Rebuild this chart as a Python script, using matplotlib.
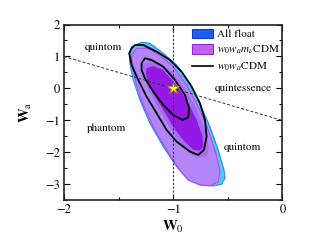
import numpy as np
import matplotlib
matplotlib.use("Agg")
import matplotlib.pyplot as plt
from matplotlib.patches import Patch
from matplotlib.lines import Line2D

plt.rcParams['font.family'] = ['STIXGeneral', 'DejaVu Serif']
plt.rcParams['mathtext.fontset'] = 'stix'

# contour outlines (w0, wa)
allfloat_2s_w0 = [-1.402, -1.380, -1.289, -1.213, -1.091, -0.968, -0.847, -0.755, -0.664, -0.588, -0.535,
                  -0.526, -0.557, -0.633, -0.755, -0.862, -0.968, -1.091, -1.213, -1.304, -1.366, -1.396]
allfloat_2s_wa = [1.100, 1.306, 1.444, 1.412, 1.100, 0.734, 0.162, -0.463, -1.194, -1.922, -2.547,
                  -2.806, -2.994, -3.047, -3.016, -2.859, -2.444, -1.819, -1.088, -0.359, 0.266, 0.787]

mnu_2s_w0 = [-1.380, -1.335, -1.243, -1.121, -1.000, -0.877, -0.771, -0.679, -0.609, -0.572,
             -0.588, -0.664, -0.755, -0.862, -0.954, -1.060, -1.183, -1.274, -1.335, -1.371]
mnu_2s_wa = [1.047, 1.256, 1.256, 1.047, 0.681, 0.109, -0.569, -1.297, -2.025, -2.600,
             -2.913, -3.047, -3.016, -2.859, -2.494, -1.922, -1.194, -0.516, 0.109, 0.631]

allfloat_1s_w0 = [-1.277, -1.213, -1.121, -1.011, -0.892, -0.792, -0.709, -0.673, -0.691, -0.755,
                  -0.828, -0.920, -1.030, -1.140, -1.231, -1.277]
allfloat_1s_wa = [0.766, 0.859, 0.797, 0.516, 0.016, -0.609, -1.297, -1.859, -2.109, -2.172,
                  -2.078, -1.766, -1.234, -0.609, 0.016, 0.453]

mnu_1s_w0 = [-1.243, -1.183, -1.091, -0.984, -0.877, -0.785, -0.730, -0.725, -0.755, -0.816,
             -0.908, -1.000, -1.091, -1.183, -1.238, -1.249]
mnu_1s_wa = [0.631, 0.703, 0.578, 0.162, -0.359, -0.984, -1.506, -1.819, -1.944, -1.922,
             -1.609, -1.194, -0.672, -0.150, 0.266, 0.475]

wowa_2s_w0 = [-1.402, -1.380, -1.350, -1.274, -1.151, -1.030, -0.923, -0.831, -0.755, -0.709,
              -0.694, -0.719, -0.771, -0.847, -0.968, -1.060, -1.151, -1.243, -1.320, -1.380]
wowa_2s_wa = [1.100, 1.256, 1.359, 1.359, 1.150, 0.891, 0.525, 0.056, -0.463, -0.984,
              -1.506, -1.922, -2.078, -1.975, -1.663, -1.297, -0.775, -0.256, 0.266, 0.734]

wowa_1s_w0 = [-1.289, -1.259, -1.197, -1.091, -0.984, -0.892, -0.853, -0.862, -0.914, -1.000,
              -1.091, -1.183, -1.259, -1.289]
wowa_1s_wa = [0.787, 0.944, 0.891, 0.681, 0.266, -0.203, -0.619, -0.900, -0.984, -0.828,
              -0.516, -0.100, 0.319, 0.578]

# dividing lines: wa = -1 - w0 and w0 = -1
divide_w0 = [-2.0, 0.0]
divide_wa = [1.0, -1.0]
lcdm_w0 = -1.0
lcdm_wa = 0.0

regions = [("quintom", -1.64, 1.30), ("quintessence", -0.36, 0.01),
           ("phantom", -1.61, -1.24), ("quintom", -0.37, -1.85)]

fig = plt.figure(figsize=(3.21, 2.45), dpi=100)
ax = fig.add_axes([0.199, 0.182, 0.681, 0.718])

ax.fill(allfloat_2s_w0, allfloat_2s_wa, facecolor='#55c6f6', edgecolor='#2a86ee', lw=0.8, joinstyle='round')
ax.fill(mnu_2s_w0, mnu_2s_wa, facecolor='#b286f6', edgecolor='#b448f0', lw=0.8, joinstyle='round')
ax.fill(allfloat_1s_w0, allfloat_1s_wa, facecolor='#a46cf2', edgecolor='none')
ax.fill(mnu_1s_w0, mnu_1s_wa, facecolor='#9418e6', edgecolor='none')
ax.fill(wowa_2s_w0, wowa_2s_wa, facecolor='none', edgecolor='black', lw=1.3, joinstyle='round')
ax.fill(wowa_1s_w0, wowa_1s_wa, facecolor='none', edgecolor='black', lw=1.3, joinstyle='round')

ax.plot(divide_w0, divide_wa, color='#333333', ls=(0, (3, 2)), lw=0.7)
ax.axvline(lcdm_w0, color='#333333', ls=(0, (2, 1.5)), lw=0.8)
ax.plot([lcdm_w0], [lcdm_wa], marker='*', ms=9, mfc='#ffff30', mec='#a09000', mew=0.6, zorder=5)

for label, x, y in regions:
    ax.text(x, y, label, ha='center', va='center', fontsize=8)

ax.set_xlim(-2, 0)
ax.set_ylim(-3.5, 2)
ax.set_xticks([-2, -1, 0])
ax.set_xticks([-1.5, -0.5], minor=True)
ax.set_yticks([-3, -2, -1, 0, 1, 2])
ax.set_yticks(np.arange(-3.5, 2.1, 0.5), minor=True)
ax.tick_params(which='both', direction='in', top=True, right=True, labelsize=9, pad=3)
ax.tick_params(which='major', length=4, width=0.8)
ax.tick_params(which='minor', length=2, width=0.8)
for s in ax.spines.values():
    s.set_linewidth(1.2)
    s.set_color('#222222')

ax.set_xlabel(r'W$_\mathrm{0}$', fontsize=10.5, fontweight='bold', labelpad=2)
ax.set_ylabel(r'W$_\mathrm{a}$', fontsize=10.5, fontweight='bold', labelpad=8)

handles = [Patch(facecolor='#1f5ef5', edgecolor='#1040c0', lw=0.8),
           Patch(facecolor='#c060f8', edgecolor='#9030d0', lw=0.8),
           Line2D([], [], color='black', lw=1.2)]
labels = ['All float', r'$w_0w_am_\nu$CDM', r'$w_0w_a$CDM']
ax.legend(handles, labels, loc='upper left', bbox_to_anchor=(0.585, 0.975), frameon=False,
          fontsize=8, handlelength=1.9, handleheight=0.9, handletextpad=0.35, labelspacing=0.4,
          borderaxespad=0, borderpad=0)

fig.savefig('out.png', dpi=100)
